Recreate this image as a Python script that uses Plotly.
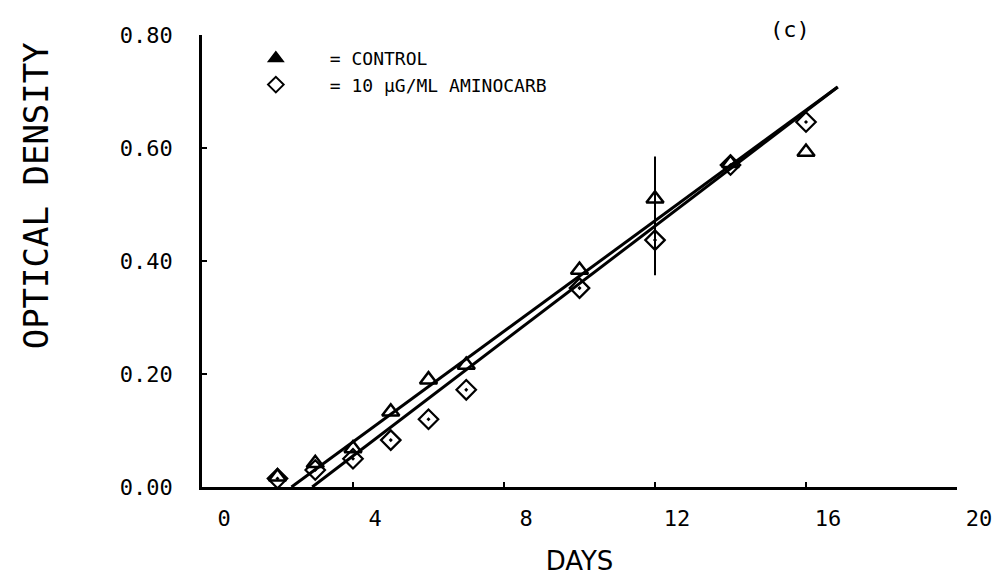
import plotly.graph_objects as go

# Data
days = [2, 3, 4, 5, 6, 7, 10, 12, 14, 16]
control = [0.018, 0.042, 0.068, 0.133, 0.190, 0.216, 0.384, 0.510, 0.573, 0.593]
control_err = [0, 0, 0, 0, 0, 0, 0, 0.075, 0, 0]
aminocarb = [0.015, 0.030, 0.050, 0.083, 0.120, 0.172, 0.352, 0.437, 0.570, 0.646]
aminocarb_err = [0, 0, 0, 0, 0, 0, 0, 0.062, 0, 0]

# Fitted regression lines (endpoints)
fit_control_x = [2.37, 16.84]
fit_control_y = [0.0, 0.708]
fit_amino_x = [2.92, 16.84]
fit_amino_y = [0.0, 0.708]

x_ticks = [0, 4, 8, 12, 16, 20]
y_ticks = [0.0, 0.2, 0.4, 0.6, 0.8]
y_tick_labels = ["0.00", "0.20", "0.40", "0.60", "0.80"]

series_names = ["= CONTROL", "= 10 \u00b5G/ML AMINOCARB"]

MONO = "DejaVu Sans Mono"

# plot-area geometry in pixels (for placing free text)
L, R, T, B = 202, 41, 35, 97
PW, PH = 1004 - L - R, 584 - T - B


def px(x):
    return (x - L) / PW


def py(y):
    return (584 - B - y) / PH


fig = go.Figure()

fig.add_trace(go.Scatter(x=fit_control_x, y=fit_control_y, mode="lines",
                         line=dict(color="black", width=3), showlegend=False, hoverinfo="skip"))
fig.add_trace(go.Scatter(x=fit_amino_x, y=fit_amino_y, mode="lines",
                         line=dict(color="black", width=3), showlegend=False, hoverinfo="skip"))

fig.add_trace(go.Scatter(
    x=days, y=control, mode="markers", name=series_names[0], showlegend=False,
    marker=dict(symbol="triangle-up-open", size=15, color="black", line=dict(width=2.5, color="black")),
    error_y=dict(type="data", array=control_err, visible=True, color="black", thickness=2, width=0),
))
fig.add_trace(go.Scatter(
    x=days, y=aminocarb, mode="markers", name=series_names[1], showlegend=False,
    marker=dict(symbol="diamond-open-dot", size=15, color="black", line=dict(width=2.2, color="black")),
    error_y=dict(type="data", array=aminocarb_err, visible=True, color="black", thickness=2, width=0),
))

# legend keys (filled triangle, open diamond as in the original key)
fig.add_trace(go.Scatter(x=[None], y=[None], mode="markers", name=series_names[0],
                         marker=dict(symbol="triangle-up", size=15, color="black",
                                     line=dict(width=1.5, color="black"))))
fig.add_trace(go.Scatter(x=[None], y=[None], mode="markers", name=series_names[1],
                         marker=dict(symbol="diamond-open", size=15, color="black",
                                     line=dict(width=2.5, color="black"))))

fig.update_layout(
    width=1004, height=584,
    margin=dict(l=L, r=R, t=T, b=B),
    paper_bgcolor="white", plot_bgcolor="white",
    font=dict(family=MONO, color="black"),
    showlegend=True,
    legend=dict(x=px(222), y=py(40), xanchor="left", yanchor="top",
                bgcolor="rgba(0,0,0,0)", font=dict(family=MONO, size=18, color="black"),
                itemwidth=98, itemsizing="constant"),
    xaxis=dict(range=[0, 20], tickmode="array", tickvals=x_ticks,
               showline=True, linecolor="black", linewidth=2.5, mirror=False,
               ticks="inside", ticklen=5, tickwidth=2, tickcolor="black",
               showgrid=False, zeroline=False,
               tickfont=dict(family=MONO, size=22, color="black"),
               ticklabelshift=22, ticklabelstandoff=10,
               title=dict(text="DAYS", font=dict(family="DejaVu Sans", size=26, color="black"), standoff=22)),
    yaxis=dict(range=[0, 0.8], tickmode="array", tickvals=y_ticks, ticktext=y_tick_labels,
               showline=True, linecolor="black", linewidth=2.5, mirror=False,
               ticks="inside", ticklen=5, tickwidth=2, tickcolor="black",
               showgrid=False, zeroline=False,
               tickfont=dict(family=MONO, size=22, color="black"),
               ticklabelstandoff=22),
    annotations=[
        dict(text="(c)", x=px(795), y=py(30), xref="paper", yref="paper",
             xanchor="center", yanchor="middle", showarrow=False,
             font=dict(family=MONO, size=22, color="black")),
        dict(text="OPTICAL DENSITY", x=px(35), y=py(196), xref="paper", yref="paper",
             xanchor="center", yanchor="middle", textangle=-90, showarrow=False,
             font=dict(family=MONO, size=34, color="black")),
    ],
)

fig.write_html("out.html")
